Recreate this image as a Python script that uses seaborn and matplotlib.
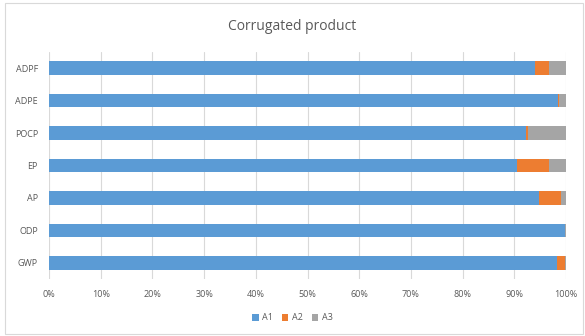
import matplotlib
matplotlib.use("Agg")
import matplotlib.pyplot as plt
import seaborn as sns
import numpy as np
import pandas as pd
from matplotlib.patches import Rectangle, Patch
from matplotlib.ticker import PercentFormatter

categories = ["ADPF", "ADPE", "POCP", "EP", "AP", "ODP", "GWP"]
a1 = [94.1, 98.5, 92.3, 90.6, 94.8, 99.8, 98.3]
a2 = [2.7, 0.2, 0.4, 6.2, 4.3, 0.0, 1.5]
a3 = [3.2, 1.3, 7.3, 3.2, 0.9, 0.2, 0.2]
series_names = ["A1", "A2", "A3"]
colors = ["#5B9BD5", "#ED7D31", "#A5A5A5"]

sns.set_theme(style="white")
plt.rcParams["font.family"] = ["Open Sans", "DejaVu Sans"]

fig = plt.figure(figsize=(5.85, 3.36), dpi=100)
ax = fig.add_axes([49/585, 1 - 279/336, (566-49)/585, (279-52)/336])

df = pd.DataFrame({"cat": categories, "A1": a1, "A2": a2, "A3": a3})
df["c1"] = df["A1"]
df["c2"] = df["A1"] + df["A2"]
df["c3"] = df["A1"] + df["A2"] + df["A3"]

for col, color in zip(["c3", "c2", "c1"], colors[::-1]):
    sns.barplot(data=df, x=col, y="cat", order=categories, color=color,
                orient="h", width=0.42, ax=ax, saturation=1, linewidth=0)

ax.set_xlim(0, 100)
ax.set_xticks(np.arange(0, 101, 10))
ax.xaxis.set_major_formatter(PercentFormatter(decimals=0))
ax.grid(axis="x", color="#D9D9D9", linewidth=0.8)
ax.set_axisbelow(True)
for s in ax.spines.values():
    s.set_visible(False)
ax.set_xlabel("")
ax.set_ylabel("")
ax.tick_params(axis="both", length=0, labelsize=6.5, colors="#595959", pad=8)
ax.tick_params(axis="x", pad=8)

fig.text(0.5, 1 - 26/336, "Corrugated product", ha="center", va="center",
         fontsize=10, color="#595959")

handles = [Patch(facecolor=c, edgecolor="none", label=n) for c, n in zip(colors, series_names)]
fig.legend(handles=handles, loc="center", bbox_to_anchor=(0.5, 1 - 318/336), ncol=3,
           frameon=False, fontsize=6.5, labelcolor="#595959", handlelength=0.7,
           handleheight=0.7, handletextpad=0.4, columnspacing=1.0)

fig.patches.append(Rectangle((5/585, 2/336), 578/585, 331/336, transform=fig.transFigure,
                             fill=False, edgecolor="#D9D9D9", linewidth=0.8))

fig.savefig("out.png", dpi=100)
